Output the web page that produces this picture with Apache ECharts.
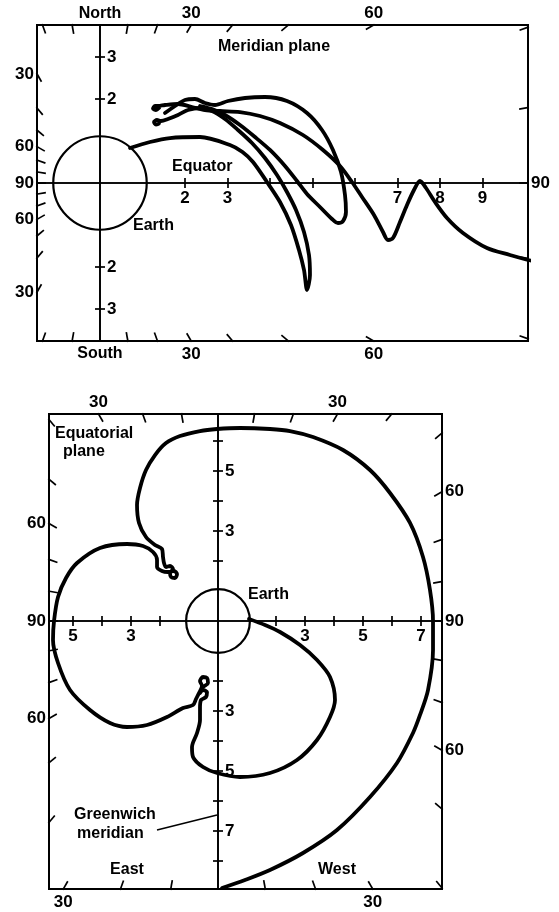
<!DOCTYPE html>
<html>
<head>
<meta charset="utf-8">
<script src="https://cdn.jsdelivr.net/npm/echarts@6/dist/echarts.min.js"></script>
<style>
  html, body { margin: 0; padding: 0; background: #fff; }
  #chart { width: 559px; height: 912px; }
</style>
</head>
<body>
<div id="chart"></div>
<script>
// Trajectories in Earth radii: [x, y]
// Meridian plane: x = distance along the equator, y = north (+) / south (-)
const meridianTrackA = [
  [0.706,0.833],[1.176,0.976],[1.647,1.071],[2.353,1.095],[3.059,0.905],[3.353,0.738],[3.6,0.5],
  [3.929,0.024],[4.235,-0.452],[4.494,-1.0],[4.682,-1.595],[4.8,-2.071],[4.871,-2.548],
  [4.941,-2.190],[4.918,-1.714],[4.8,-1.167],[4.612,-0.643],[4.4,-0.214],[4.165,0.190],
  [3.882,0.595],[3.576,0.952],[3.247,1.262],[2.941,1.524],[2.635,1.714],[2.353,1.786],
  [2.071,1.738],[1.835,1.619],[1.6,1.524],[1.435,1.476],[1.341,1.5],[1.271,1.452],
  [1.318,1.393],[1.388,1.417],[1.388,1.476]
];
const meridianTrackB = [
  [1.388,1.786],[1.318,1.738],[1.247,1.774],[1.294,1.833],[1.365,1.833],[1.529,1.857],
  [1.835,1.881],[2.165,1.810],[2.471,1.738],[2.824,1.714],[3.294,1.690],[3.765,1.595],
  [4.235,1.429],[4.776,1.143],[5.247,0.786],[5.647,0.405],[5.929,0.024],[6.165,-0.333],
  [6.447,-0.762],[6.659,-1.167],[6.776,-1.357],[6.894,-1.310],[7.059,-0.929],[7.224,-0.524],
  [7.388,-0.167],[7.529,0.048],[7.671,-0.119],[7.882,-0.452],[8.165,-0.833],[8.541,-1.190],
  [9.106,-1.548],[9.647,-1.714],[10.071,-1.833],[10.3,-1.87]
];
const meridianTrackC = [
  [1.529,1.667],[1.765,1.833],[2.0,1.976],[2.235,2.0],[2.471,1.905],[2.706,1.857],
  [3.012,1.952],[3.412,2.024],[3.882,2.048],[4.4,1.952],[4.871,1.667],[5.224,1.262],
  [5.482,0.786],[5.671,0.262],[5.765,-0.286],[5.788,-0.690],[5.718,-0.905],[5.6,-0.952],
  [5.459,-0.857],[5.176,-0.571],[4.871,-0.262],[4.635,0.048],[4.353,0.405],[4.0,0.786],
  [3.647,1.095],[3.294,1.381],[2.941,1.619],[2.635,1.762],[2.353,1.833]
];

// Equatorial plane: x = west (+) / east (-), y along the Greenwich meridian
const equatorialTrack = [
  [1.069,0.067],[1.621,-0.133],[2.138,-0.367],[2.828,-0.8],[3.414,-1.3],[3.862,-1.867],
  [4.034,-2.633],[3.862,-3.2],[3.414,-3.967],[2.724,-4.633],[1.793,-5.067],[0.759,-5.2],
  [-0.034,-5.067],[-0.517,-4.867],[-0.862,-4.533],[-0.897,-4.2],[-0.724,-3.733],[-0.621,-3.3],
  [-0.621,-2.9],[-0.586,-2.633],[-0.414,-2.533],[-0.379,-2.367],[-0.517,-2.3],[-0.621,-2.4],
  [-0.517,-2.2],[-0.345,-2.067],[-0.379,-1.9],[-0.517,-1.867],[-0.621,-2.0],[-0.552,-2.167],
  [-0.655,-2.4],[-0.759,-2.6],[-0.862,-2.8],[-1.207,-2.9],[-1.759,-3.2],[-2.448,-3.467],
  [-3.138,-3.533],[-3.724,-3.4],[-4.414,-2.967],[-5.103,-2.3],[-5.517,-1.4],[-5.690,-0.633],
  [-5.655,0],[-5.517,0.8],[-5.241,1.433],[-4.862,1.933],[-4.069,2.433],[-3.138,2.567],
  [-2.586,2.5],[-2.241,2.3],[-2.103,2.033],[-2.103,1.8],[-1.931,1.667],[-1.724,1.633],
  [-1.517,1.667],[-1.414,1.567],[-1.483,1.433],[-1.621,1.467],[-1.655,1.6],[-1.552,1.733],
  [-1.655,1.833],[-1.793,1.8],[-1.862,1.933],[-1.897,2.133],[-1.931,2.4],[-2.172,2.533],
  [-2.483,2.8],[-2.724,3.267],[-2.793,3.867],[-2.690,4.433],[-2.483,5.033],[-2.172,5.533],
  [-1.793,5.933],[-1.310,6.167],[-0.621,6.333],[-0.034,6.4],[0.759,6.433],[1.793,6.4],
  [2.483,6.333],[3.276,6.133],[4.310,5.7],[5.241,5.033],[5.931,4.267],[6.621,3.267],
  [7.069,2.133],[7.310,1.033],[7.414,0],[7.414,-0.967],[7.241,-2.3],[6.966,-3.133],
  [6.724,-3.733],[6.172,-4.733],[5.241,-5.867],[4.103,-6.967],[2.931,-7.733],[1.793,-8.3],
  [0.931,-8.633],[0.138,-8.9]
];

const earthRadius = 1.1;

// Distance ticks and labels on the inner axes
const meridianEquatorTicks = [2, 3, 4, 5, 6, 7, 8, 9];
const meridianEquatorLabels = [2, 3, 7, 8, 9];
const meridianPolarTicks = [-3, -2, 2, 3];
const meridianPolarLabels = [-3, -2, 2, 3];
const equatorialXTicks = [-5, -4, -3, -2, 2, 3, 4, 5, 6, 7];
const equatorialXLabels = [-5, -3, 3, 5, 7];
const equatorialYTicks = [-8, -7, -6, -5, -4, -3, -2, 2, 3, 4, 5, 6];
const equatorialYLabels = [-7, -5, -3, 3, 5];

// Direction ticks on the frame, degrees clockwise from the upward axis
const rimTickAngles = [-170, -160, -150, -140, -130, -120, -110, -100, -90, -80, -70, -60, -50, -40, -30, -20, -10,
  10, 20, 30, 40, 50, 60, 70, 80, 90, 100, 110, 120, 130, 140, 150, 160, 170];
const meridianRimAngles = [0, 30, 60, 90, 120, 150, 180, -30, -60, -90, -120, -150];
const meridianRimTexts = ['North', '30', '60', '90', '60', '30', 'South', '30', '60', '90', '60', '30'];
const equatorialRimAngles = [30, 60, 90, 120, 150, -30, -60, -90, -120, -150];
const equatorialRimTexts = ['30', '60', '90', '60', '30', '30', '60', '90', '60', '30'];

const FONT = '"Liberation Sans", Arial, sans-serif';
const INK = '#000';
const NUM_FONT = 'bold 17px ' + FONT;

function rimPoint(params, api, deg) {
  const o = api.coord([0, 0]);
  const cs = params.coordSys;
  const r = deg * Math.PI / 180;
  const dx = Math.sin(r), dy = -Math.cos(r);
  const cand = [];
  if (dx > 1e-6) cand.push([(cs.x + cs.width - o[0]) / dx, 'right']);
  if (dx < -1e-6) cand.push([(cs.x - o[0]) / dx, 'left']);
  if (dy > 1e-6) cand.push([(cs.y + cs.height - o[1]) / dy, 'bottom']);
  if (dy < -1e-6) cand.push([(cs.y - o[1]) / dy, 'top']);
  let t = Infinity, edge = '';
  cand.forEach(function (c) { if (c[0] < t) { t = c[0]; edge = c[1]; } });
  return { x: o[0] + dx * t, y: o[1] + dy * t, dx: dx, dy: dy, edge: edge };
}

function rimTickSeries(gridIdx) {
  return {
    type: 'custom', xAxisIndex: gridIdx * 2, yAxisIndex: gridIdx * 2, silent: true,
    encode: { x: 0, y: 1 },
    data: rimTickAngles.map(function (a) { return [0, 0, a]; }),
    renderItem: function (params, api) {
      const p = rimPoint(params, api, api.value(2));
      return {
        type: 'line',
        shape: { x1: p.x + p.dx, y1: p.y + p.dy, x2: p.x - p.dx * 9, y2: p.y - p.dy * 9 },
        style: { stroke: INK, lineWidth: 1.7 }
      };
    }
  };
}

function rimLabelSeries(gridIdx, angles, texts) {
  return {
    type: 'custom', xAxisIndex: gridIdx * 2, yAxisIndex: gridIdx * 2, silent: true,
    encode: { x: 0, y: 1 },
    data: angles.map(function (a) { return [0, 0, a]; }),
    renderItem: function (params, api) {
      const p = rimPoint(params, api, api.value(2));
      let x = p.x, y = p.y, align = 'center', va = 'middle';
      if (p.edge === 'top') { y -= 3; va = 'bottom'; }
      else if (p.edge === 'bottom') { y += 5; va = 'top'; }
      else if (p.edge === 'left') { x -= 3; align = 'right'; }
      else { x += 3; align = 'left'; }
      const txt = texts[params.dataIndex];
      const font = /\d/.test(txt) ? NUM_FONT : 'bold 16px ' + FONT;
      return {
        type: 'text',
        style: { text: txt, x: x, y: y, align: align, verticalAlign: va, font: font, fill: INK }
      };
    }
  };
}

// Distance labels beside the inner axes (axis 'x' -> below the line, 'y' -> right of it)
function innerLabelSeries(gridIdx, values, dim) {
  return {
    type: 'custom', xAxisIndex: gridIdx * 2, yAxisIndex: gridIdx * 2, silent: true,
    encode: { x: 0, y: 1 },
    data: values.map(function (v) { return dim === 'x' ? [v, 0] : [0, v]; }),
    renderItem: function (params, api) {
      const p = api.coord([api.value(0), api.value(1)]);
      const v = dim === 'x' ? api.value(0) : api.value(1);
      const style = dim === 'x'
        ? { x: p[0], y: p[1] + 7, align: 'center', verticalAlign: 'top' }
        : { x: p[0] + 7, y: p[1], align: 'left', verticalAlign: 'middle' };
      style.text = String(Math.abs(v));
      style.font = NUM_FONT;
      style.fill = INK;
      return { type: 'text', style: style };
    }
  };
}

function earthSeries(gridIdx) {
  return {
    type: 'custom', xAxisIndex: gridIdx * 2, yAxisIndex: gridIdx * 2, silent: true,
    encode: { x: 0, y: 1 },
    data: [[0, 0]],
    renderItem: function (params, api) {
      const c = api.coord([0, 0]);
      const r = api.size([earthRadius, 0])[0];
      return { type: 'circle', shape: { cx: c[0], cy: c[1], r: r },
        style: { fill: 'transparent', stroke: INK, lineWidth: 2.2 } };
    }
  };
}

function trackSeries(gridIdx, data) {
  return {
    type: 'line', xAxisIndex: gridIdx * 2, yAxisIndex: gridIdx * 2, data: data,
    showSymbol: false, smooth: 0.3, clip: true, silent: true,
    lineStyle: { color: INK, width: 3.8, join: 'round', cap: 'round' }
  };
}

function xAxes(gridIdx, min, max, ticks) {
  const base = { type: 'value', gridIndex: gridIdx, min: min, max: max, splitLine: { show: false }, axisLabel: { show: false } };
  return ['bottom', 'top'].map(function (pos, k) {
    return Object.assign({}, base, {
      position: pos,
      axisLine: { show: true, onZero: true, onZeroAxisIndex: gridIdx * 2 + k, lineStyle: { color: INK, width: 1.7 } },
      axisTick: { show: true, customValues: ticks, length: 5, lineStyle: { color: INK, width: 1.7 } }
    });
  });
}

function yAxes(gridIdx, min, max, ticks) {
  const base = { type: 'value', gridIndex: gridIdx, min: min, max: max, splitLine: { show: false }, axisLabel: { show: false } };
  return ['left', 'right'].map(function (pos, k) {
    return Object.assign({}, base, {
      position: pos,
      axisLine: { show: true, onZero: true, onZeroAxisIndex: gridIdx * 2 + k, lineStyle: { color: INK, width: 1.7 } },
      axisTick: { show: true, customValues: ticks, length: 5, lineStyle: { color: INK, width: 1.7 } }
    });
  });
}

function textEl(str, x, y, align) {
  return { type: 'text', x: x, y: y, silent: true,
    style: { text: str, font: 'bold 16px ' + FONT, fill: INK, align: align || 'left', verticalAlign: 'middle' } };
}

const chart = echarts.init(document.getElementById('chart'), null, { renderer: 'canvas' });
chart.setOption({
  animation: false,
  backgroundColor: '#fff',
  grid: [
    { left: 37, top: 25, width: 491, height: 316, show: true, borderColor: INK, borderWidth: 2, containLabel: false },
    { left: 49, top: 414, width: 393, height: 475, show: true, borderColor: INK, borderWidth: 2, containLabel: false }
  ],
  xAxis: [].concat(
    xAxes(0, -1.482, 10.071, meridianEquatorTicks),
    xAxes(1, -5.828, 7.724, equatorialXTicks)
  ),
  yAxis: [].concat(
    yAxes(0, -3.762, 3.762, meridianPolarTicks),
    yAxes(1, -8.933, 6.9, equatorialYTicks)
  ),
  series: [
    earthSeries(0),
    trackSeries(0, meridianTrackA),
    trackSeries(0, meridianTrackB),
    trackSeries(0, meridianTrackC),
    rimTickSeries(0),
    rimLabelSeries(0, meridianRimAngles, meridianRimTexts),
    innerLabelSeries(0, meridianEquatorLabels, 'x'),
    innerLabelSeries(0, meridianPolarLabels, 'y'),
    earthSeries(1),
    trackSeries(1, equatorialTrack),
    rimTickSeries(1),
    rimLabelSeries(1, equatorialRimAngles, equatorialRimTexts),
    innerLabelSeries(1, equatorialXLabels, 'x'),
    innerLabelSeries(1, equatorialYLabels, 'y')
  ],
  graphic: { elements: [
    textEl('Meridian plane', 218, 47),
    textEl('Equator', 172, 167),
    textEl('Earth', 133, 226),
    textEl('Equatorial', 55, 434),
    textEl('plane', 63, 452),
    textEl('Earth', 248, 595),
    textEl('Greenwich', 74, 815),
    textEl('meridian', 77, 834),
    { type: 'line', silent: true, shape: { x1: 157, y1: 830, x2: 217, y2: 815 }, style: { stroke: INK, lineWidth: 1.6 } },
    textEl('East', 127, 870, 'center'),
    textEl('West', 337, 870, 'center')
  ] }
});
</script>
</body>
</html>
